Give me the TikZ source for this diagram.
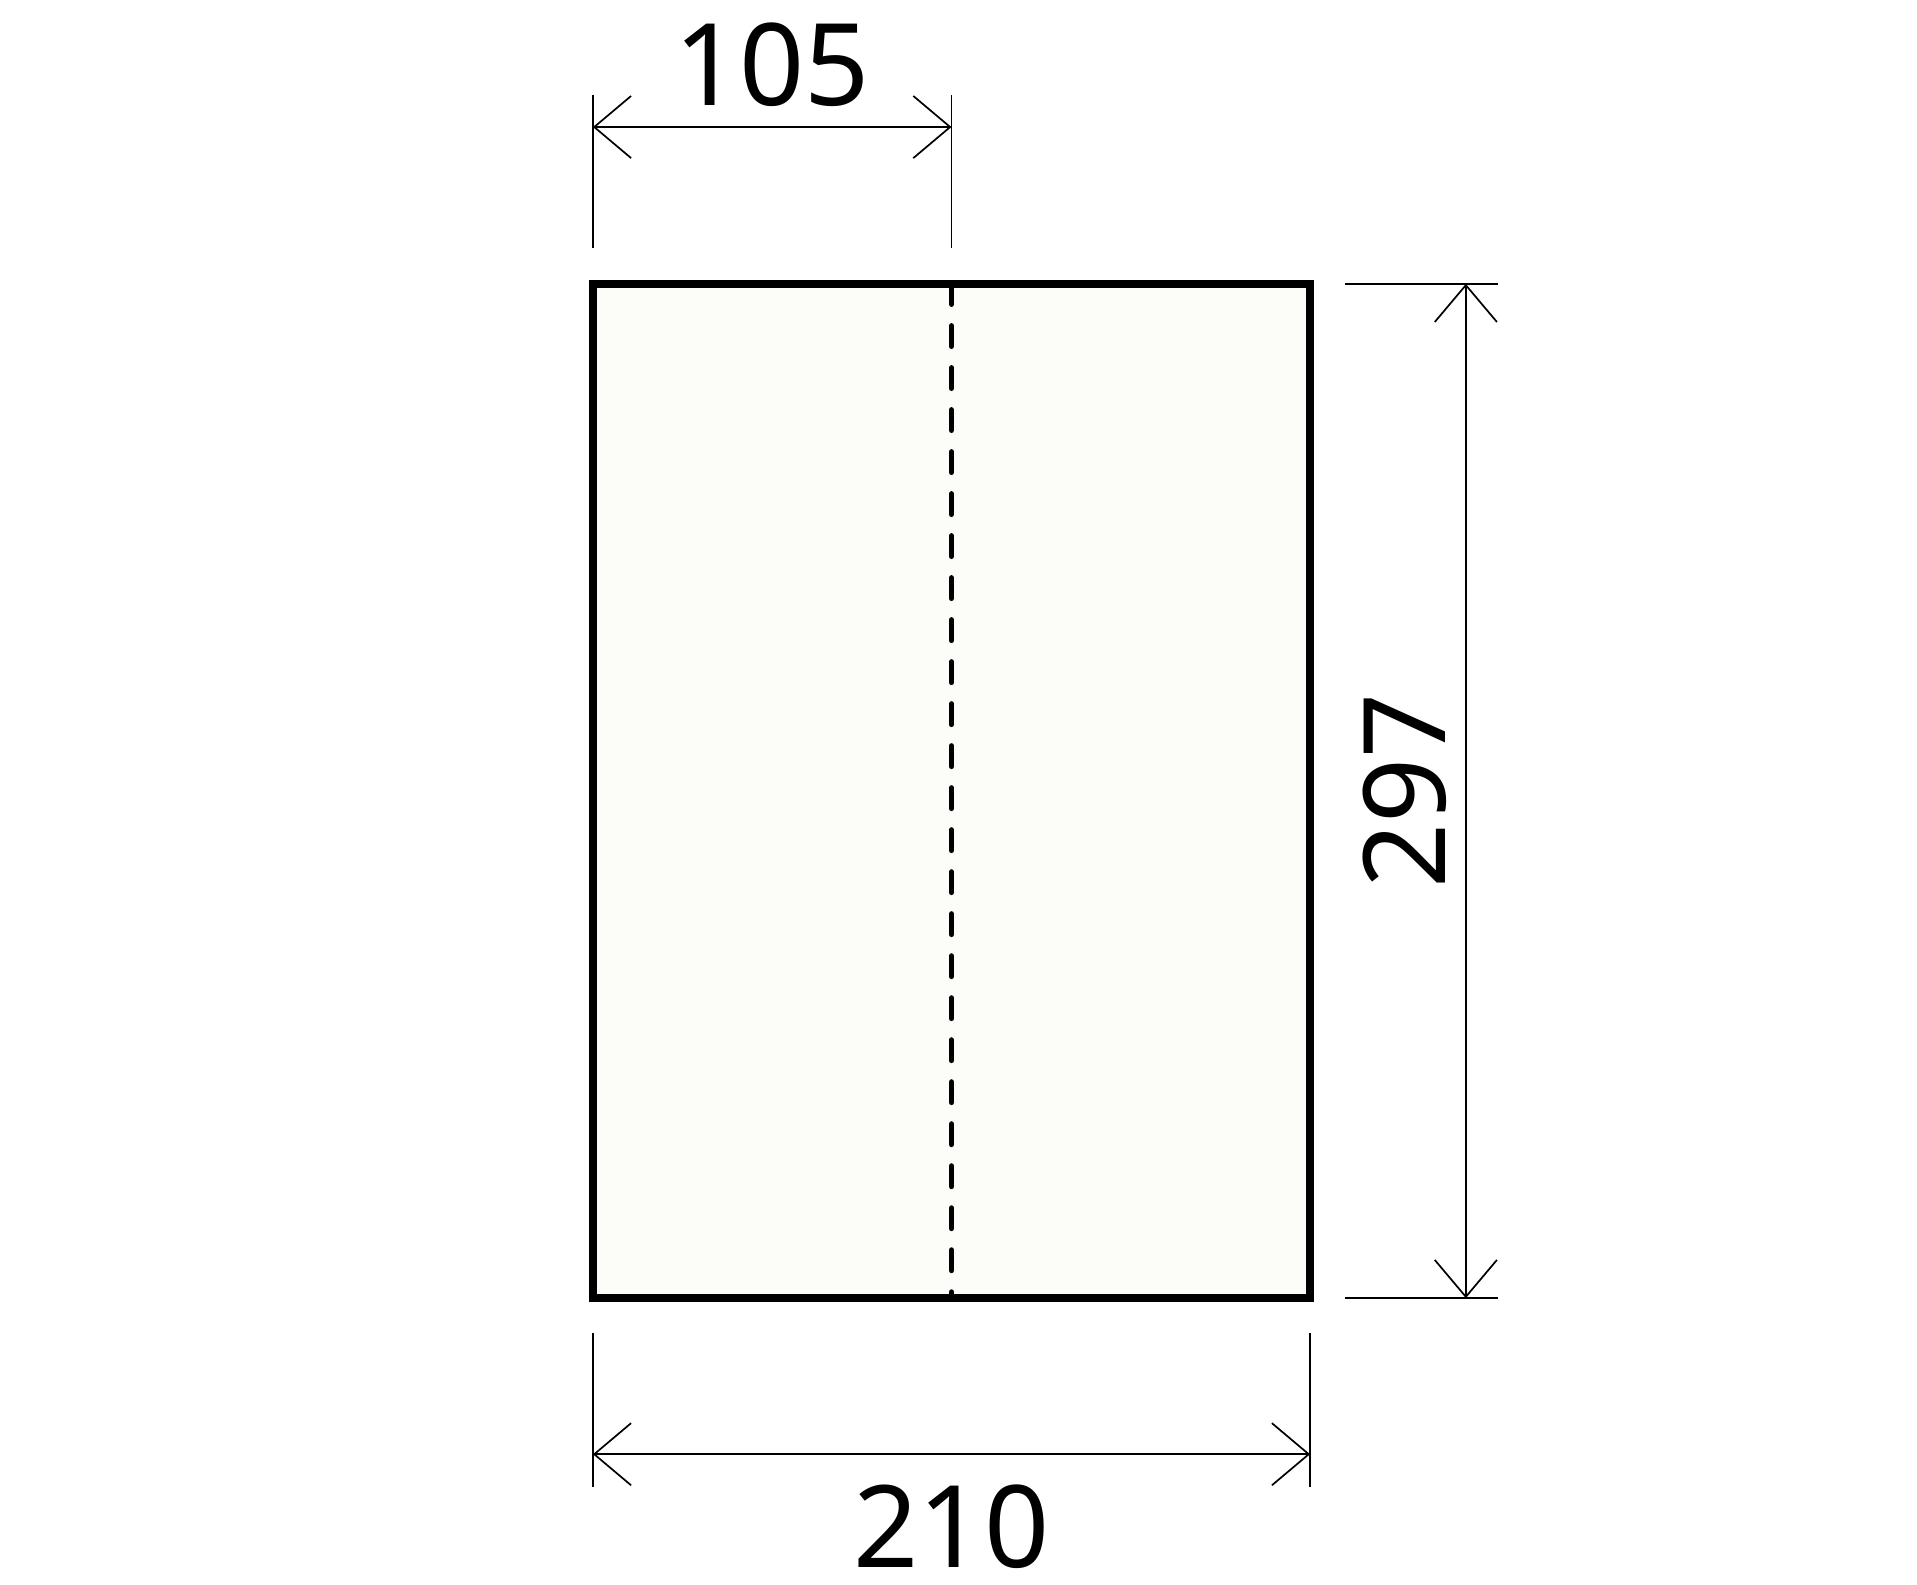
\documentclass[tikz,border=0pt]{standalone}
\usepackage{fontspec}
\setmainfont{Noto Sans}
\usetikzlibrary{arrows.meta}
\definecolor{paper}{RGB}{252,253,248}
\tikzset{
  dimline/.style={line width=0.5mm,
    {Straight Barb[length=10.8mm,width=18.2mm]}-{Straight Barb[length=10.8mm,width=18.2mm]}},
  extline/.style={line width=0.5mm},
  dimlabel/.style={font=\fontsize{95}{100}\selectfont, inner sep=0pt, text depth=0pt}
}
\begin{document}
\begin{tikzpicture}[x=1mm,y=1mm]
\useasboundingbox (-173.6,-83.7) rectangle (387.7,380.1);

% sheet
\fill[paper] (0,0) rectangle (210,297);
% fold line
\draw[line width=1.6mm, line cap=round, dash pattern=on 6mm off 6.3mm] (105,297) -- (105,0);
\draw[line width=2.2mm] (0,0) rectangle (210,297);

% top dimension
\draw[extline]	(0,307.5) -- (0,352.3)
		(105,307.5) -- (105,352.3);
\draw[dimline] (0,342.9) -- (105,342.9);
\node[dimlabel, anchor=base] (half) at (52.5,349.3) {105};

% bottom dimension
\draw[extline]	(0,-10.2) -- (0,-55.3)
		(210,-10.2) -- (210,-55.3);
\draw[dimline] (0,-45.7) -- (210,-45.7);
\node[dimlabel, anchor=base] (width) at (105,-78.8) {210};

% right dimension
\draw[extline]	(220.2,297) -- (265,297)
		(220.2,0) -- (265,0);
\draw[dimline] (255.6,0) -- (255.6,297);
\node[dimlabel, anchor=base, rotate=90] (height) at (249.5,148.5) {297};

\end{tikzpicture}
\end{document}
